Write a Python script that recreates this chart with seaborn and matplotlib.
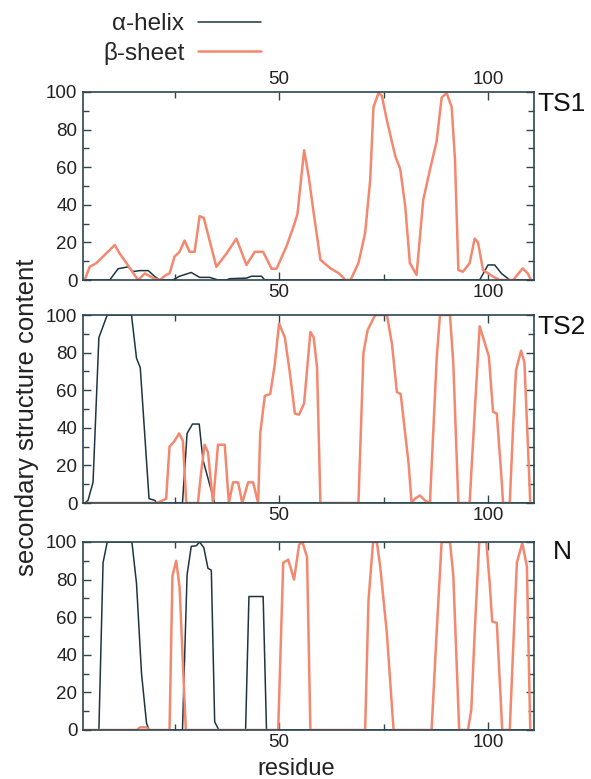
import matplotlib
matplotlib.use("Agg")
import matplotlib.pyplot as plt
import seaborn as sns
from matplotlib.ticker import MultipleLocator, FixedLocator

# secondary structure content (%) vs residue
ts1_helix_x = [3.5, 9.5, 11.5, 13.9, 15.1, 16.7, 18.7, 20.3, 21.5, 24.6, 26.2, 29, 31, 33.4, 35.4,
               37.4, 38.2, 42.2, 43.4, 45.8, 46.6, 98, 100, 101.6, 103.2, 105.2, 110.5]
ts1_helix_y = [0, 0, 6, 7, 4.5, 5, 5, 1.8, 0, 0, 2, 4, 1.4, 1.4, 0,
               0, 0.7, 1, 2, 2, 0, 0, 8, 8, 3.5, 0, 0]
ts1_sheet_x = [3.5, 4.7, 6.3, 10.7, 11.9, 13.5, 14.7, 16.3, 17.9, 19.9, 21.5, 23, 23.8, 25, 26.2,
               27.4, 28.6, 29.8, 31, 32, 35, 37.4, 39.8, 42.2, 44.2, 46.2, 48.2, 49.4, 51.8, 53.4,
               54.4, 56, 57.1, 58.3, 59.9, 62.3, 64.3, 65.9, 67.1, 69, 70.6, 71.8, 72.6, 73.8,
               74.6, 75.8, 77.8, 79, 80.2, 81.3, 82.9, 84.5, 86.1, 87.7, 88.9, 90.1, 91.3, 92.1,
               92.9, 94, 95.6, 96.8, 97.6, 98.8, 101.2, 102.8, 106, 108.3, 109.5, 110.3]
ts1_sheet_y = [0, 7, 9, 18.6, 14, 9, 5, 0, 3.5, 1, 0, 2.7, 3.5, 12.4, 15,
               21, 15, 15, 34, 33, 7, 14, 22, 8, 15, 15, 6, 6, 18, 28,
               35, 69, 55, 35.5, 10.7, 6.2, 3.6, 0, 0, 9, 25, 53, 92, 99.5,
               98, 85, 66, 59, 39, 9, 2.7, 42.6, 58.6, 73.7, 97, 99.5, 92, 64,
               5.3, 4.4, 8.9, 22, 20, 5.3, 1.8, 0, 0, 6.2, 3.5, 0]

ts2_helix_x = [3.5, 4.3, 5.5, 6.9, 7.9, 8.9, 14.7, 15.9, 16.8, 18.9, 20.3, 20.7, 26.9, 28, 29.3,
               30.9, 31.8, 34.6, 110.5]
ts2_helix_y = [0, 1.4, 11, 88, 94, 100, 100, 77, 72, 2.3, 1.4, 0, 0, 37, 42,
               42, 23, 0, 0]
ts2_sheet_x = [3.5, 20.7, 22.2, 23, 23.8, 25, 26.1, 27, 27.8, 30.6, 31.4, 32.2, 33, 34.2, 35.4,
               37, 38, 39, 40.2, 41.2, 42.6, 43.8, 45, 45.5, 46.6, 47.9, 49, 50, 51.4, 52.6,
               53.8, 54.8, 56, 57.5, 58.3, 59.1, 59.9, 69, 70.2, 71.2, 73, 75.8, 77, 78.2,
               79.1, 81, 81.7, 82.5, 83.7, 84.9, 86.1, 87.7, 88.5, 90.9, 91.7, 92.9, 95.6,
               96.8, 98, 100.2, 101.2, 102.1, 103.2, 103.6, 105.2, 106, 106.7, 107.9, 108.7,
               109.5, 110.1]
ts2_sheet_y = [0, 0, 1.4, 2.3, 30, 33, 37, 33, 0, 0, 17, 31, 27, 0, 31,
               31, 0, 11, 11, 0, 11, 11, 0, 37, 57, 58, 74, 95.5, 88, 69,
               47.6, 47, 53, 91, 88, 72, 0, 0, 80, 92, 100, 100, 85, 59,
               58, 21, 0, 2.3, 4, 1.4, 0, 76, 100, 100, 74, 0, 0,
               47.6, 94, 78, 48.5, 47.6, 14, 0, 0, 40.5, 70.6, 81, 75,
               33, 0]

n_helix_x = [3.5, 6.9, 7.9, 8.9, 14.8, 15.9, 17.1, 18.3, 18.9, 26.9, 28, 29, 30.2, 31, 32,
             33, 33.8, 34.6, 35.6, 42, 42.8, 46.2, 47, 110.5]
n_helix_y = [0, 0, 89, 100, 100, 78, 30, 3.6, 0, 0, 82.6, 97.7, 98, 100, 97,
             86, 85, 4.4, 0, 0, 71, 71, 0, 0]
n_sheet_x = [3.5, 16, 16.7, 18.3, 19, 23.8, 24.5, 25.4, 26.2, 27.7, 49.8, 51, 52.2, 53.6, 54.8,
             55.6, 56.7, 57.5, 70.6, 71.4, 72.5, 73.4, 74.2, 75.8, 77.4, 86.5, 87.7, 88.9,
             90.9, 91.7, 93.1, 95.2, 96, 96.8, 97.9, 99.6, 100.4, 101, 102.1, 103.4, 105.2,
             106, 106.9, 108.2, 109.3, 110.1]
n_sheet_y = [0, 0, 1.4, 1.4, 0, 0, 82, 90, 76, 0, 0, 89, 90.6, 80, 98.6,
             100, 92, 0, 0, 69, 100, 100, 87, 51.5, 0, 0, 51.5, 100,
             100, 82, 0, 0, 10.7, 51.5, 100, 100, 78, 57.7, 57, 0, 0,
             42.6, 89, 99.5, 87, 0]

panels = ["TS1", "TS2", "N"]
helix_x = [ts1_helix_x, ts2_helix_x, n_helix_x]
helix_y = [ts1_helix_y, ts2_helix_y, n_helix_y]
sheet_x = [ts1_sheet_x, ts2_sheet_x, n_sheet_x]
sheet_y = [ts1_sheet_y, ts2_sheet_y, n_sheet_y]

sns.set_style("white")
plt.rcParams["font.family"] = ["Liberation Sans", "DejaVu Sans"]

helix_color = "#1e3440"
sheet_color = "#f4886f"
spine_color = "#2d4550"

fig = plt.figure(figsize=(5.91, 7.79), dpi=100)
W, H = 591, 779
left, right = 83, 534
tops = [92, 315, 542]
ph = 188

axes = []
for i, name in enumerate(panels):
    top = tops[i]
    ax = fig.add_axes([left / W, 1 - (top + ph) / H, (right - left) / W, ph / H])
    sns.lineplot(x=helix_x[i], y=helix_y[i], ax=ax, sort=False, estimator=None,
                 color=helix_color, lw=1.1, label="α-helix" if i == 0 else None)
    sns.lineplot(x=sheet_x[i], y=sheet_y[i], ax=ax, sort=False, estimator=None,
                 color=sheet_color, lw=1.8, label="β-sheet" if i == 0 else None)
    ax.set_xlim(3.1, 111)
    ax.set_ylim(0, 100)
    ax.xaxis.set_major_locator(FixedLocator([50, 100]))
    ax.xaxis.set_minor_locator(FixedLocator([25, 75]))
    ax.yaxis.set_major_locator(MultipleLocator(20))
    ax.yaxis.set_minor_locator(MultipleLocator(10))
    ax.tick_params(which="both", direction="in", top=True, right=True, bottom=True, left=True,
                   colors=spine_color, labelcolor="#222222", labelsize=13.5, width=1.0)
    ax.tick_params(which="major", length=6, pad=4)
    ax.tick_params(which="minor", length=4)
    ax.tick_params(axis="x", labeltop=(i == 0), labelbottom=True, pad=3)
    for s in ax.spines.values():
        s.set_color(spine_color)
        s.set_linewidth(1.2)
    ax.set_xlabel("")
    ax.set_ylabel("")
    if ax.get_legend() is not None:
        ax.get_legend().remove()
    axes.append(ax)

# panel tags
fig.text(537 / W, 1 - 92 / H, "TS1", fontsize=19, va="top", ha="left", color="#111111")
fig.text(537 / W, 1 - 315 / H, "TS2", fontsize=19, va="top", ha="left", color="#111111")
fig.text(553 / W, 1 - 540 / H, "N", fontsize=19, va="top", ha="left", color="#111111")

fig.text(27 / W, 1 - 417 / H, "secondary structure content", rotation=90,
         fontsize=18.5, ha="center", va="center", color="#222222")
fig.text(296 / W, 1 - 769 / H, "residue", fontsize=17, ha="center", va="center", color="#222222")

handles, labels = axes[0].get_legend_handles_labels()
fig.legend(handles, labels, loc="center right", bbox_to_anchor=(261 / W, 1 - 39 / H),
           frameon=False, markerfirst=False, fontsize=17.5, handlelength=2.6,
           handletextpad=0.55, labelspacing=0.25, borderpad=0, borderaxespad=0)

fig.savefig("out.png", dpi=100)
